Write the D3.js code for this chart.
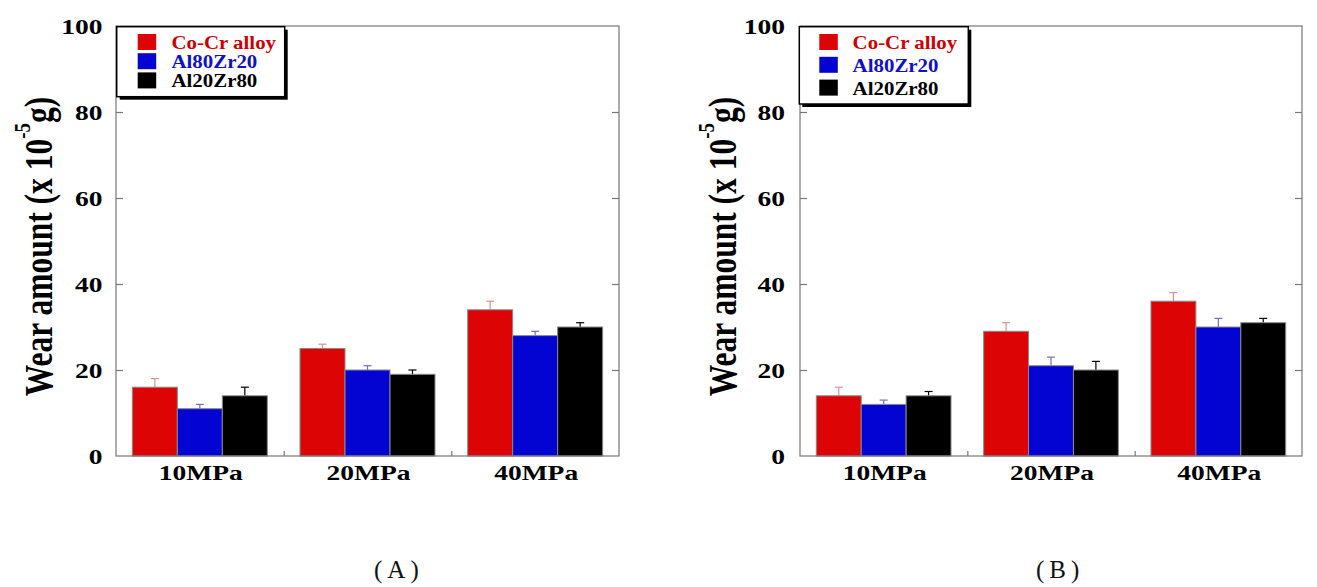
<!DOCTYPE html>
<html>
<head>
<meta charset="utf-8">
<script src="https://cdn.jsdelivr.net/npm/d3@7"></script>
<style>
  html, body { margin: 0; padding: 0; background: #fff; }
  svg { display: block; }
</style>
</head>
<body>
<svg id="chart" width="1317" height="587"></svg>
<script>
// ---- data ----
const categories = ["10MPa", "20MPa", "40MPa"];
const seriesNames = ["Co-Cr alloy", "Al80Zr20", "Al20Zr80"];
const yTicks = [0, 20, 40, 60, 80, 100];

// Panel A
const coCrA = [16, 25, 34];
const al80A = [11, 20, 28];
const al20A = [14, 19, 30];
const coCrErrA = [2, 1, 2];
const al80ErrA = [1, 1, 1];
const al20ErrA = [2, 1, 1];

// Panel B
const coCrB = [14, 29, 36];
const al80B = [12, 21, 30];
const al20B = [14, 20, 31];
const coCrErrB = [2, 2, 2];
const al80ErrB = [1, 2, 2];
const al20ErrB = [1, 2, 1];

const barColors = ["#dc0404", "#0404d2", "#000000"];
const errColors = ["#e09090", "#7070b8", "#000000"];
const legendTextColors = ["#d00000", "#1010cc", "#000000"];

const svg = d3.select("#chart");
svg.append("rect").attr("width", 1317).attr("height", 587).attr("fill", "#fff");

const SERIF = "'Liberation Serif', 'Times New Roman', serif";

function stext(parent, x, y, str, size, anchor, sx) {
  const g = parent.append("g").attr("transform", `translate(${x},${y}) scale(${sx},1)`);
  return g.append("text")
    .attr("font-family", SERIF)
    .attr("font-weight", "bold")
    .attr("font-size", size)
    .attr("text-anchor", anchor)
    .text(str);
}

function panel(cfg) {
  const { left, right, top, bottom, series, errs, legend, labelRight, titleX, titleText, pTitleX } = cfg;
  const W = right - left, H = bottom - top;
  const g = svg.append("g").attr("transform", `translate(${left},${top})`);

  const y = d3.scaleLinear().domain([0, 100]).range([H, 0]);
  const p = 0.195;
  const x0 = d3.scaleBand().domain(categories).range([0, W]).paddingInner(p).paddingOuter(p / 2);
  const x1 = d3.scaleBand().domain(seriesNames).range([0, x0.bandwidth()]).padding(0);

  // bars
  categories.forEach((c, ci) => {
    const gg = g.append("g").attr("transform", `translate(${x0(c)},0)`);
    seriesNames.forEach((s, si) => {
      const v = series[si][ci];
      const e = errs[si][ci];
      const bx = x1(s), bw = x1.bandwidth();
      const cx = bx + bw / 2;
      gg.append("line").attr("x1", cx).attr("x2", cx).attr("y1", y(v)).attr("y2", y(v + e))
        .attr("stroke", errColors[si]).attr("stroke-width", 1.2);
      gg.append("line").attr("x1", cx - 4).attr("x2", cx + 4).attr("y1", y(v + e)).attr("y2", y(v + e))
        .attr("stroke", errColors[si]).attr("stroke-width", 1.2);
      gg.append("rect").attr("x", bx).attr("y", y(v)).attr("width", bw).attr("height", H - y(v))
        .attr("fill", barColors[si]).attr("stroke", "#8a8a8a").attr("stroke-width", 1);
    });
  });

  // frame
  g.append("rect").attr("x", 0).attr("y", 0).attr("width", W).attr("height", H)
    .attr("fill", "none").attr("stroke", "#777").attr("stroke-width", 1.2);

  // y ticks (inner) via axes
  const inner = [20, 40, 60, 80];
  const axL = g.append("g").call(d3.axisLeft(y).tickValues(inner).tickSize(-7).tickFormat(""));
  const axR = g.append("g").attr("transform", `translate(${W},0)`)
    .call(d3.axisRight(y).tickValues(inner).tickSize(-7).tickFormat(""));
  const xb = d3.scaleLinear().domain([0, categories.length]).range([0, W]);
  const axB = g.append("g").attr("transform", `translate(0,${H})`)
    .call(d3.axisBottom(xb).tickValues([1, 2]).tickSize(-5).tickFormat(""));
  [axL, axR, axB].forEach(a => {
    a.select(".domain").remove();
    a.selectAll("line").attr("stroke", "#777").attr("stroke-width", 1.2);
  });

  // y tick labels
  yTicks.forEach(v => {
    stext(g, labelRight - left, y(v) + 7.5, String(v), 22, "end", 1.25);
  });

  // x labels
  categories.forEach(c => {
    stext(g, x0(c) + x0.bandwidth() / 2 + 1, H + 23.5, c, 22, "middle", 1.25);
  });

  // y axis title (absolute position given by titleX)
  const tg = svg.append("g").attr("transform", `translate(${titleX},246.5) scale(1.25,1) rotate(-90)`);
  const tt = tg.append("text").attr("font-family", SERIF).attr("font-weight", "bold")
    .attr("font-size", 31.5).attr("text-anchor", "middle");
  tt.append("tspan").text("Wear amount (x 10");
  tt.append("tspan").attr("font-size", 19).attr("dy", -17).text("-5");
  tt.append("tspan").attr("dy", 17).text("g)");

  // legend
  const lg = g.append("g").attr("transform", `translate(${legend.x},${legend.y})`);
  lg.append("rect").attr("x", 3).attr("y", 3).attr("width", legend.w).attr("height", legend.h).attr("fill", "#000");
  lg.append("rect").attr("x", 0).attr("y", 0).attr("width", legend.w).attr("height", legend.h)
    .attr("fill", "#fff").attr("stroke", "#000").attr("stroke-width", 1.5);
  seriesNames.forEach((s, i) => {
    lg.append("rect").attr("x", legend.sx).attr("y", legend.sy + i * legend.step)
      .attr("width", 18.5).attr("height", 16).attr("fill", barColors[i]);
    stext(lg, legend.tx, legend.sy + 15 + i * legend.step, s, 19, "start", 1.1)
      .attr("fill", legendTextColors[i]);
  });

  // panel title
  svg.append("text").attr("x", pTitleX).attr("y", 577.5)
    .attr("font-family", SERIF).attr("font-size", 25).attr("letter-spacing", 5)
    .attr("text-anchor", "start").attr("fill", "#111").text(titleText);
}

panel({
  left: 116, right: 619, top: 26, bottom: 456,
  series: [coCrA, al80A, al20A], errs: [coCrErrA, al80ErrA, al20ErrA],
  legend: { x: 0.7, y: 0.7, w: 168, h: 70, sx: 21, sy: 7.3, step: 19.2, tx: 54.7 },
  labelRight: 102.5, titleX: 51.5, titleText: "(A)", pTitleX: 374
});

panel({
  left: 800, right: 1302, top: 26, bottom: 456,
  series: [coCrB, al80B, al20B], errs: [coCrErrB, al80ErrB, al20ErrB],
  legend: { x: -0.7, y: 0.7, w: 169, h: 77.3, sx: 20, sy: 7.3, step: 22.8, tx: 53.3 },
  labelRight: 785, titleX: 735.5, titleText: "(B)", pTitleX: 1036
});
</script>
</body>
</html>
